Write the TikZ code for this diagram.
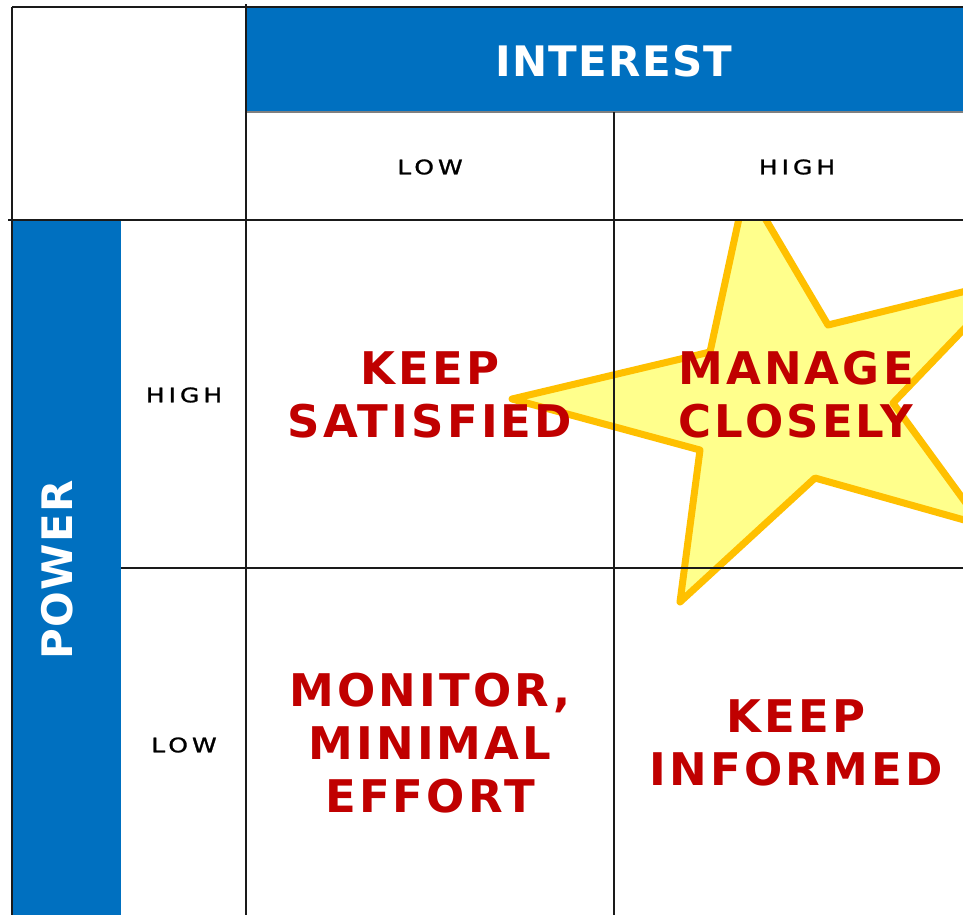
\documentclass[tikz,border=0pt]{standalone}
\usepackage{fontspec}
\setmainfont{DejaVu Sans}
\newfontfamily\bigfont[LetterSpace=7]{DejaVu Sans}
\newfontfamily\hdfont[LetterSpace=3]{DejaVu Sans}
\newfontfamily\lblfont[LetterSpace=16,FakeBold=1.2]{DejaVu Sans}
\definecolor{hdblue}{HTML}{0070C0}
\definecolor{actred}{HTML}{C00000}
\definecolor{starorange}{HTML}{FFC000}
\definecolor{starfill}{HTML}{FFFF8C}
\definecolor{gridc}{HTML}{1A1A1A}
\begin{document}
\begin{tikzpicture}[x=1pt,y=-1pt,
  grid/.style={line width=2pt, draw=gridc},
  gridthin/.style={line width=1.2pt, draw=gray},
  band/.style={fill=hdblue},
  head/.style={text=white, inner sep=0pt, font=\hdfont\bfseries\fontsize{42}{50}\selectfont},
  lbl/.style={inner sep=0pt, font=\lblfont\fontsize{20}{24}\selectfont},
  act/.style={text=actred, align=center, inner sep=0pt, font=\bigfont\bfseries\fontsize{45}{53}\selectfont},
  starshape/.style={draw=starorange, fill=starfill, line width=7pt, line join=round}
]
\useasboundingbox (0,0) rectangle (963,914);
\fill[white] (0,0) rectangle (963,914);
% blue bands
\fill[band] (246,7) rectangle (982,112);
\fill[band] (12,220) rectangle (121,916);
% star
\begin{scope}
\clip (246,220) rectangle (982,916);
\draw[starshape] (746,186) -- (828,325) -- (1011,280) -- (893,403) -- (982,525)
  -- (815,478) -- (680,602) -- (700,450) -- (512,399) -- (710,352) -- cycle;
\end{scope}
% grid
\draw[gridthin] (246,112) -- (982,112);
\draw[grid] (12,7) -- (982,7);
\draw[grid] (12,7) -- (12,916);
\draw[grid] (246,4) -- (246,916);
\draw[grid] (8,220) -- (982,220);
\draw[grid] (121,568) -- (982,568);
\draw[grid] (614,112) -- (614,916);
% headers
\node[head] (interest) at (614,61) {INTEREST};
\node[head, rotate=90] (power) at (57,570) {POWER};
% labels
\node[lbl] (ilow) at (430,167) {\scalebox{1.25}[1]{LOW}};
\node[lbl] (ihigh) at (797,167) {\scalebox{1.25}[1]{HIGH}};
\node[lbl] (phigh) at (184,395) {\scalebox{1.25}[1]{HIGH}};
\node[lbl] (plow) at (184,745) {\scalebox{1.25}[1]{LOW}};
% actions
\node[act] (ks) at (430,395) {KEEP\\SATISFIED};
\node[act] (mc) at (796,395) {MANAGE\\CLOSELY};
\node[act] (mm) at (430,743) {MONITOR,\\MINIMAL\\EFFORT};
\node[act] (ki) at (796,743) {KEEP\\INFORMED};
\end{tikzpicture}
\end{document}
